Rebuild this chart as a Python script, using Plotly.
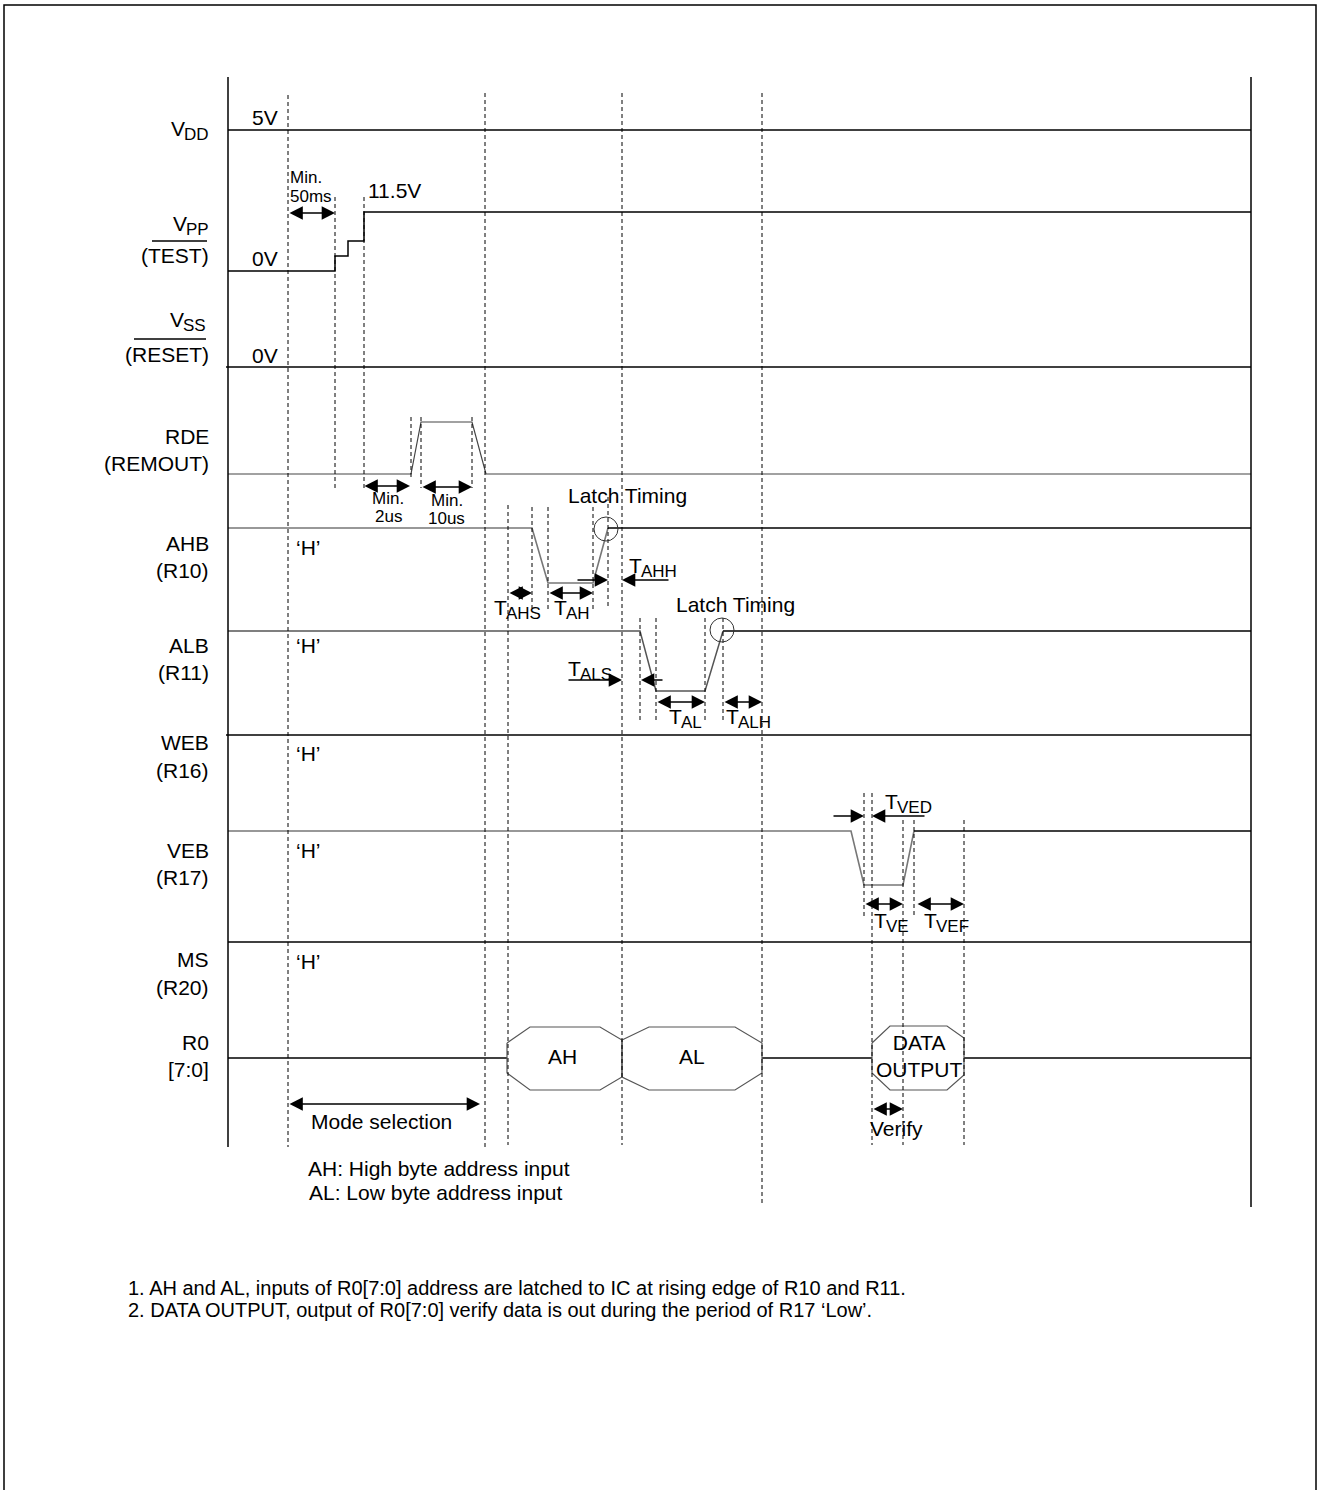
import plotly.graph_objects as go

W, H = 1319, 1490
FONT = "Liberation Sans, Arial, sans-serif"
FS = 21      # main text size
FS_SUB = 17  # subscript size
FS_MIN = 17  # small 'Min.' notes

# ---------------- data (in diagram units) ----------------
row_labels = ["(TEST)", "(RESET)", "RDE", "(REMOUT)", "AHB", "(R10)", "ALB", "(R11)",
              "WEB", "(R16)", "VEB", "(R17)", "MS", "(R20)", "R0", "[7:0]"]
row_label_y = [255, 354, 436, 463, 543, 570, 645, 672, 742, 770,
               850, 877, 959, 987, 1042, 1069]

# supply labels with subscripts: main, sub, left x of main, centre y of main
sup_main = ["V", "V", "V"]
sup_sub = ["DD", "PP", "SS"]
sup_x = [170, 172, 169]
sup_y = [128, 223, 319]

t_start, t_end = 228, 1251

# waveform breakpoints (time, level)
vdd_t, vdd_v = [228, 1251], [130, 130]
vpp_t = [228, 335, 335, 348, 348, 364, 364, 1251]
vpp_v = [271, 271, 256, 256, 241, 241, 212, 212]
vss_t, vss_v = [226, 1251], [367, 367]
rde_t = [228, 411, 421, 472, 486, 1251]
rde_v = [474, 474, 422, 422, 474, 474]
ahb_t = [228, 532, 548, 593, 608]
ahb_v = [528, 528, 583, 583, 528]
ahb_post_t, ahb_post_v = [608, 1251], [528, 528]
alb_t = [228, 640, 656, 705, 723]
alb_v = [631, 631, 691, 691, 631]
alb_post_t, alb_post_v = [723, 1251], [631, 631]
web_t, web_v = [226, 1251], [735, 735]
veb_t = [228, 851, 864, 903, 914]
veb_v = [831, 831, 885, 885, 831]
veb_post_t, veb_post_v = [914, 1251], [831, 831]
ms_t, ms_v = [228, 1251], [942, 942]
r0_idle_t = [[228, 507], [762, 872], [964, 1251]]
r0_mid = 1058

# bus windows (start, end, label)
bus_start = [507, 622, 872]
bus_end = [622, 762, 964]
bus_text = ["AH", "AL", "DATA<br>OUTPUT"]

# dashed timing markers (time, top, bottom)
mark_t = [288, 335, 364, 411, 421, 472, 485, 508, 532, 548, 593, 608, 622,
          640, 656, 705, 723, 762, 864, 872, 903, 914, 964]
mark_top = [95, 197, 197, 417, 417, 417, 93, 505, 507, 507, 507, 497, 93,
            618, 618, 618, 618, 93, 793, 793, 820, 820, 820]
mark_bot = [1147, 490, 488, 478, 488, 488, 1150, 1145, 608, 610, 610, 608, 1145,
            722, 722, 722, 722, 1205, 918, 1145, 1145, 918, 1145]

# double-headed interval arrows (from, to, level)
span_from = [288, 363, 421, 508, 548, 656, 723, 864, 916, 288, 872]
span_to = [335, 410, 472, 532, 593, 705, 762, 903, 964, 480, 903]
span_y = [213, 486, 487, 593, 593, 702, 702, 904, 904, 1104, 1109]

# single-headed arrows (tail, head, level)
ptr_tail = [576, 670, 567, 664, 832, 926]
ptr_head = [608, 622, 622, 641, 864, 872]
ptr_y = [580, 580, 680, 680, 816, 816]

# latch circles (centre time, level)
latch_t = [606, 722]
latch_y = [529, 630]

# timing parameter labels: subscript, left x of 'T', centre y of 'T'
tp_sub = ["AHS", "AH", "AHH", "ALS", "AL", "ALH", "VED", "VE", "VEF"]
tp_x = [493, 553, 628, 567, 668, 725, 884, 873, 923]
tp_y = [607, 607, 565, 668, 716, 716, 801, 920, 920]

notes = ["1. AH and AL, inputs of R0[7:0] address are latched to IC at rising edge of R10 and R11.",
         "2. DATA OUTPUT, output of R0[7:0] verify data is out during the period of R17 ‘Low’."]
notes_y = [1288, 1310]

# ---------------- figure ----------------
fig = go.Figure()

def wave(t, v, color="black", width=1.5):
    fig.add_trace(go.Scatter(x=t, y=v, mode="lines",
                             line=dict(color=color, width=width),
                             hoverinfo="skip", showlegend=False))

wave(vdd_t, vdd_v)
wave(vpp_t, vpp_v)
wave(vss_t, vss_v)
wave(rde_t, rde_v, color="#444", width=1.2)
wave(ahb_t, ahb_v, color="#777", width=1.6)
wave(ahb_post_t, ahb_post_v)
wave(alb_t, alb_v, color="#555", width=1.5)
wave(alb_post_t, alb_post_v)
wave(web_t, web_v)
wave(veb_t, veb_v, color="#777", width=1.6)
wave(veb_post_t, veb_post_v)
wave(ms_t, ms_v)
for seg in r0_idle_t:
    wave(seg, [r0_mid, r0_mid])

def txt(x, y, s, size=FS, xa="center", ya="middle"):
    fig.add_annotation(x=x, y=y, text=s, showarrow=False, xanchor=xa, yanchor=ya,
                       font=dict(family=FONT, size=size, color="black"),
                       borderpad=0)

# bus hexagons
for i, (s, e) in enumerate(zip(bus_start, bus_end)):
    if i == 2:
        px = [s, s + 18, e - 17, e, e, e - 17, s + 18, s, s]
        py = [1043, 1026, 1026, 1038, 1075, 1090, 1090, 1073, 1043]
    elif i == 0:
        px = [s, s + 23, e - 22, e, e, e - 22, s + 23, s, s]
        py = [1043, 1027, 1027, 1040, 1077, 1090, 1090, 1073, 1043]
    else:
        px = [s, s + 27, e - 27, e, e, e - 27, s + 27, s, s]
        py = [1040, 1027, 1027, 1043, 1073, 1090, 1090, 1077, 1040]
    wave(px, py, color="#555", width=1.2)
txt(562, 1056, bus_text[0])
txt(692, 1056, bus_text[1])
txt(919, 1056, bus_text[2])

shapes = []
shapes.append(dict(type="rect", x0=4, y0=5, x1=1316, y1=1510,
                   line=dict(color="black", width=1.5)))
shapes.append(dict(type="line", x0=t_start, y0=77, x1=t_start, y1=1147,
                   line=dict(color="black", width=1.5)))
shapes.append(dict(type="line", x0=t_end, y0=77, x1=t_end, y1=1207,
                   line=dict(color="black", width=1.5)))
for t, a, b in zip(mark_t, mark_top, mark_bot):
    shapes.append(dict(type="line", x0=t, y0=a, x1=t, y1=b,
                       line=dict(color="black", width=1, dash="4px,3px")))
for t, y in zip(latch_t, latch_y):
    shapes.append(dict(type="circle", x0=t - 12, y0=y - 12, x1=t + 12, y1=y + 12,
                       line=dict(color="#333", width=1)))
# overlines on TEST / RESET
shapes.append(dict(type="line", x0=152, y0=241, x1=207, y1=241, line=dict(color="black", width=1.5)))
shapes.append(dict(type="line", x0=134, y0=339, x1=206, y1=339, line=dict(color="black", width=1.5)))

# arrows
for a, b, y in zip(span_from, span_to, span_y):
    fig.add_annotation(x=b, y=y, ax=a, ay=y, axref="x", ayref="y", xref="x", yref="y",
                       text="", showarrow=True, arrowhead=2, arrowside="end+start",
                       arrowsize=1.9, arrowwidth=1.4, arrowcolor="black",
                       standoff=0, startstandoff=0)
for a, b, y in zip(ptr_tail, ptr_head, ptr_y):
    fig.add_annotation(x=b, y=y, ax=a, ay=y, axref="x", ayref="y", xref="x", yref="y",
                       text="", showarrow=True, arrowhead=2, arrowsize=1.9,
                       arrowwidth=1.4, arrowcolor="black", standoff=0)

# row labels
for s, y in zip(row_labels, row_label_y):
    txt(210, y, s, xa="right")
for m, sb, x, y in zip(sup_main, sup_sub, sup_x, sup_y):
    txt(x, y, m, xa="left")
    txt(x + 0.667 * FS - 1, y + 6, sb, size=FS_SUB, xa="left")

# timing parameter labels
for sb, x, y in zip(tp_sub, tp_x, tp_y):
    txt(x, y, "T", xa="left")
    txt(x + 0.611 * FS - 0.5, y + 6, sb, size=FS_SUB, xa="left")

# level / timing texts
txt(265, 117, "5V")
txt(265, 258, "0V")
txt(265, 355, "0V")
txt(306, 177, "Min.", size=FS_MIN)
txt(311, 196, "50ms", size=FS_MIN)
txt(394, 190, "11.5V")
txt(388, 498, "Min.", size=FS_MIN)
txt(388, 516, "2us", size=FS_MIN)
txt(447, 500, "Min.", size=FS_MIN)
txt(446, 518, "10us", size=FS_MIN)
txt(627, 495, "Latch Timing")
txt(735, 604, "Latch Timing")
for y in [547, 645, 753, 850, 961]:
    txt(308, y, "‘H’")

txt(896, 1128, "Verify")
txt(381, 1121, "Mode selection")
txt(307, 1168, "AH: High byte address input", xa="left")
txt(308, 1192, "AL: Low byte address input", xa="left")
for s, y in zip(notes, notes_y):
    txt(127, y, s, size=20, xa="left")

fig.update_layout(
    width=W, height=H, margin=dict(l=0, r=0, t=0, b=0),
    paper_bgcolor="white", plot_bgcolor="white",
    xaxis=dict(range=[0, W], visible=False, fixedrange=True),
    yaxis=dict(range=[H, 0], visible=False, fixedrange=True),
    shapes=shapes, showlegend=False,
)

fig.write_html("out.html", config={"displayModeBar": False, "staticPlot": True},
               post_script="document.body.style.margin='0px';")
